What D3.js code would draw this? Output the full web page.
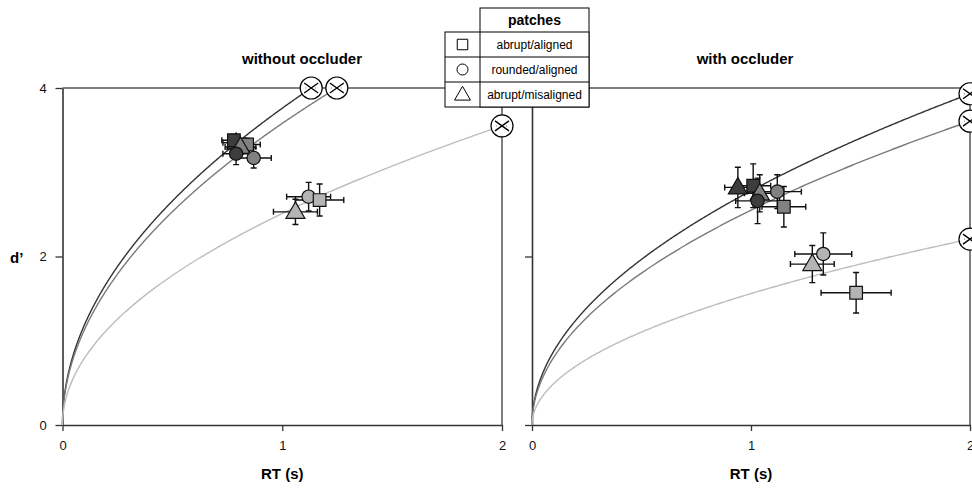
<!DOCTYPE html>
<html>
<head>
<meta charset="utf-8">
<script src="https://cdn.jsdelivr.net/npm/d3@7"></script>
<style>
  body { margin: 0; background: #fff; }
  svg { display: block; font-family: "Liberation Sans", Arial, sans-serif; }
</style>
</head>
<body>
<svg id="chart" width="972" height="488"></svg>
<script>
// Panel titles and axis ticks
const panelTitles = ["without occluder", "with occluder"];
const xTicks = [0, 1, 2];
const yTicks = [0, 2, 4];

// Patch types (legend rows) and grey tones for the three conditions
const patchShapes = ["square", "circle", "triangle"];
const patchLabels = ["abrupt/aligned", "rounded/aligned", "abrupt/misaligned"];
const toneFill = ["#3d3d3d", "#818181", "#b4b4b4"];
const toneLine = ["#333333", "#7a7a7a", "#bdbdbd"];

// Speed-accuracy curves d' = k * sqrt(RT), one coefficient per tone
const curveKWithout = [3.76, 3.58, 2.51];
const curveKWith = [2.78, 2.55, 1.56];

// Observed means with standard errors
const pointsWithout = [
  { tone: 0, shape: "triangle", rt: 0.79, d: 3.35, rtErr: 0.06, dErr: 0.09 },
  { tone: 0, shape: "square",   rt: 0.78, d: 3.38, rtErr: 0.055, dErr: 0.07 },
  { tone: 1, shape: "square",   rt: 0.84, d: 3.33, rtErr: 0.06, dErr: 0.07 },
  { tone: 1, shape: "triangle", rt: 0.81, d: 3.30, rtErr: 0.07, dErr: 0.09 },
  { tone: 0, shape: "circle",   rt: 0.79, d: 3.22, rtErr: 0.06, dErr: 0.13 },
  { tone: 1, shape: "circle",   rt: 0.87, d: 3.17, rtErr: 0.08, dErr: 0.12 },
  { tone: 2, shape: "circle",   rt: 1.12, d: 2.71, rtErr: 0.10, dErr: 0.17 },
  { tone: 2, shape: "square",   rt: 1.17, d: 2.67, rtErr: 0.11, dErr: 0.19 },
  { tone: 2, shape: "triangle", rt: 1.06, d: 2.53, rtErr: 0.10, dErr: 0.15 }
];
const pointsWith = [
  { tone: 0, shape: "triangle", rt: 0.94, d: 2.82, rtErr: 0.06, dErr: 0.24 },
  { tone: 1, shape: "square",   rt: 1.15, d: 2.59, rtErr: 0.10, dErr: 0.24 },
  { tone: 1, shape: "circle",   rt: 1.12, d: 2.77, rtErr: 0.11, dErr: 0.20 },
  { tone: 0, shape: "square",   rt: 1.01, d: 2.84, rtErr: 0.08, dErr: 0.26 },
  { tone: 1, shape: "triangle", rt: 1.04, d: 2.75, rtErr: 0.07, dErr: 0.22 },
  { tone: 0, shape: "circle",   rt: 1.03, d: 2.66, rtErr: 0.10, dErr: 0.27 },
  { tone: 2, shape: "circle",   rt: 1.33, d: 2.03, rtErr: 0.13, dErr: 0.25 },
  { tone: 2, shape: "triangle", rt: 1.28, d: 1.91, rtErr: 0.10, dErr: 0.22 },
  { tone: 2, shape: "square",   rt: 1.48, d: 1.57, rtErr: 0.16, dErr: 0.24 }
];

const panels = [
  { title: panelTitles[0], k: curveKWithout, points: pointsWithout, x0: 62.5, x1: 502, titleX: 302, labels: true },
  { title: panelTitles[1], k: curveKWith, points: pointsWith, x0: 532, x1: 970, titleX: 745, labels: false }
];

const svg = d3.select("#chart");
const yTop = 88, yBottom = 425;
const xMax = 2, yMax = 4;

function markerPath(shape, size) {
  const sym = shape === "square" ? d3.symbolSquare : shape === "circle" ? d3.symbolCircle : d3.symbolTriangle;
  return d3.symbol().type(sym).size(size)();
}
const markerSize = { square: 160, circle: 140, triangle: 155 };

panels.forEach(p => {
  const x = d3.scaleLinear().domain([0, xMax]).range([p.x0, p.x1]);
  const y = d3.scaleLinear().domain([0, yMax]).range([yBottom, yTop]);
  const g = svg.append("g");

  // frame: top and right borders
  g.append("line").attr("x1", x(0)).attr("x2", x(xMax)).attr("y1", y(yMax)).attr("y2", y(yMax))
    .attr("stroke", "#000").attr("stroke-width", 1);
  g.append("line").attr("x1", x(xMax)).attr("x2", x(xMax)).attr("y1", y(yMax)).attr("y2", y(0))
    .attr("stroke", "#000").attr("stroke-width", 1);

  // axes
  const xAxis = d3.axisBottom(x).tickValues(xTicks).tickSize(6).tickSizeOuter(0).tickFormat(d3.format("d"));
  const yAxis = d3.axisLeft(y).tickValues(yTicks).tickSize(7).tickSizeOuter(0)
    .tickFormat(p.labels ? d3.format("d") : () => "");
  const gx = g.append("g").attr("transform", `translate(0,${yBottom})`).call(xAxis);
  const gy = g.append("g").attr("transform", `translate(${x(0)},0)`).call(yAxis);
  [gx, gy].forEach(a => {
    a.select(".domain").attr("stroke", "#333").attr("stroke-width", 1.6);
    a.selectAll(".tick line").attr("stroke", "#333").attr("stroke-width", 1.3);
    a.selectAll(".tick text").attr("fill", "#111").attr("font-size", 13)
      .attr("font-family", "Liberation Sans, Arial, sans-serif");
  });
  gx.selectAll(".tick text").attr("dy", "1.25em");
  gy.selectAll(".tick text").attr("dx", "-0.45em");

  // title and x label
  g.append("text").attr("x", p.titleX).attr("y", 64)
    .attr("text-anchor", "middle").attr("font-weight", "bold").attr("font-size", 15)
    .text(p.title);
  g.append("text").attr("x", x(1)).attr("y", 479)
    .attr("text-anchor", "middle").attr("font-weight", "bold").attr("font-size", 15)
    .text("RT (s)");

  // curves with end markers
  const line = d3.line().x(d => x(d[0])).y(d => y(d[1]));
  p.k.forEach((k, i) => {
    const tEnd = Math.min(xMax, (yMax / k) ** 2);
    const pts = d3.range(0, 401).map(j => {
      const t = tEnd * (j / 400) ** 2;
      return [t, k * Math.sqrt(t)];
    });
    g.append("path").attr("d", line(pts)).attr("fill", "none")
      .attr("stroke", toneLine[i]).attr("stroke-width", 1.4);
  });
  p.k.forEach((k, i) => {
    const tEnd = Math.min(xMax, (yMax / k) ** 2);
    const cx = x(tEnd), cy = y(k * Math.sqrt(tEnd));
    const m = g.append("g").attr("transform", `translate(${cx},${cy})`);
    m.append("circle").attr("r", 11).attr("fill", "#fff").attr("stroke", "#000").attr("stroke-width", 1.2);
    m.append("path").attr("d", "M-7,-5 Q0,0 7,5 M-7,5 Q0,0 7,-5")
      .attr("fill", "none").attr("stroke", "#000").attr("stroke-width", 1.4);
    m.append("path").attr("d", "M-6,0 L-4,0 M4,0 L6,0")
      .attr("stroke", "#777").attr("stroke-width", 1).attr("stroke-dasharray", "1,1");
  });

  // error bars
  const capH = 3, capV = 3;
  const eb = g.append("g").attr("stroke", "#111").attr("stroke-width", 1.4);
  p.points.forEach(d => {
    const px = x(d.rt), py = y(d.d);
    const xl = x(d.rt - d.rtErr), xr = x(d.rt + d.rtErr);
    const yt = y(d.d + d.dErr), yb = y(d.d - d.dErr);
    eb.append("path").attr("fill", "none").attr("d",
      `M${xl},${py}H${xr}M${xl},${py - capH}V${py + capH}M${xr},${py - capH}V${py + capH}` +
      `M${px},${yt}V${yb}M${px - capV},${yt}H${px + capV}M${px - capV},${yb}H${px + capV}`);
  });

  // markers
  p.points.forEach(d => {
    g.append("path").attr("d", markerPath(d.shape, markerSize[d.shape]))
      .attr("transform", `translate(${x(d.rt)},${y(d.d) + (d.shape === "triangle" ? 1 : 0)})`)
      .attr("fill", toneFill[d.tone]).attr("stroke", "#111").attr("stroke-width", 1.2);
  });
});

// d' label
svg.append("text").attr("x", 10).attr("y", 263).attr("font-weight", "bold").attr("font-size", 15)
  .text("d\u2019");

// legend table
const lg = svg.append("g");
const lx0 = 445, lx1 = 480, lx2 = 589;
const rowY = [8, 32, 57, 82, 107];
lg.append("rect").attr("x", lx1).attr("y", rowY[0]).attr("width", lx2 - lx1).attr("height", rowY[4] - rowY[0])
  .attr("fill", "#fff").attr("stroke", "#000");
lg.append("rect").attr("x", lx0).attr("y", rowY[1]).attr("width", lx2 - lx0).attr("height", rowY[4] - rowY[1])
  .attr("fill", "#fff").attr("stroke", "#000");
lg.append("text").attr("x", (lx1 + lx2) / 2).attr("y", 25).attr("text-anchor", "middle")
  .attr("font-weight", "bold").attr("font-size", 14).text("patches");
patchShapes.forEach((s, i) => {
  const top = rowY[i + 1], bot = rowY[i + 2];
  if (i > 0) lg.append("line").attr("x1", lx0).attr("x2", lx2).attr("y1", top).attr("y2", top).attr("stroke", "#000");
  lg.append("path").attr("d", markerPath(s, s === "circle" ? 95 : s === "triangle" ? 110 : 110))
    .attr("transform", `translate(${(lx0 + lx1) / 2},${(top + bot) / 2 + (s === "triangle" ? 1 : 0)})`)
    .attr("fill", "#fff").attr("stroke", "#000").attr("stroke-width", 1);
  lg.append("text").attr("x", (lx1 + lx2) / 2).attr("y", (top + bot) / 2 + 4.5)
    .attr("text-anchor", "middle").attr("font-size", 12).text(patchLabels[i]);
});
lg.append("line").attr("x1", lx1).attr("x2", lx1).attr("y1", rowY[1]).attr("y2", rowY[4]).attr("stroke", "#000");
</script>
</body>
</html>
